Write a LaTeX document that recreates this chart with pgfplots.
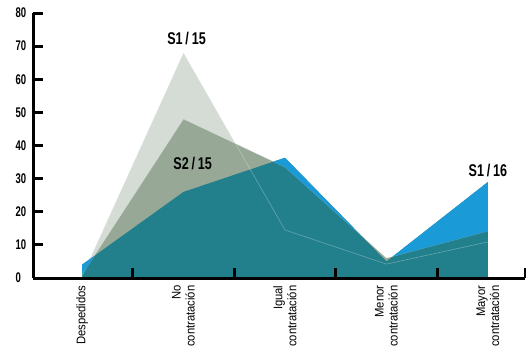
\documentclass[border=0pt]{standalone}
\usepackage{fontspec}
\setmainfont{Liberation Sans}[FakeStretch=0.9]
\newfontfamily\condb{Liberation Sans}[FakeStretch=0.74]
\newfontfamily\condt{Liberation Sans}[FakeStretch=0.68]
\newcommand\ylab[1]{{\condt\bfseries\fontsize{14}{14}\selectfont #1}}
\usepackage{pgfplots}
\usepackage{pgfplotstable}
\pgfplotsset{compat=1.18}
\usepgfplotslibrary{fillbetween}

\definecolor{lgrey}{RGB}{213,220,213}
\definecolor{ggreen}{RGB}{151,168,151}
\definecolor{tealc}{RGB}{34,127,140}
\definecolor{bluec}{RGB}{26,154,215}

\pgfplotstableread{
x y
0 0.5
1 68
2 14.5
3 4.2
4 10.9
}\sOne
\pgfplotstableread{
x y
0 1
1 48
2 33.5
3 6
4 14.2
}\sTwo
\pgfplotstableread{
x y
0 4
1 26
2 36.3
3 5
4 29
}\sBlue

\begin{document}
\begin{tikzpicture}
\begin{axis}[
  scale only axis, width=492pt, height=265pt,
  xmin=-0.483, xmax=4.365, ymin=0, ymax=80,
  axis x line*=bottom, axis y line*=left,
  axis line style={line width=3pt},
  axis on top=true,
  tick align=inside,
  major tick length=10pt,
  every tick/.append style={line width=3pt, black},
  /pgf/number format/assume math mode=true,
  ytick={0,10,20,30,40,50,60,70,80},
  yticklabels={\ylab{0},\ylab{10},\ylab{20},\ylab{30},\ylab{40},\ylab{50},\ylab{60},\ylab{70},\ylab{80}},
  yticklabel style={anchor=west, xshift=-21pt},
  xtick={0.5,1.5,2.5,3.5,4.365},
  xticklabels={},
  extra x ticks={0,1,2,3,4},
  extra x tick labels={Despedidos,No\\contratación,Igual\\contratación,Menor\\contratación,Mayor\\contratación},
  extra x tick style={major tick length=0pt},
  xticklabel shift=4pt,
  xticklabel style={rotate=90, anchor=east, align=right, font=\fontsize{12.5}{14}\selectfont},
  clip=false,
]
\coordinate (O) at (rel axis cs:0,0);
\addplot[fill=lgrey, draw=none] table {\sOne} \closedcycle;
\addplot[fill=ggreen, draw=none] table {\sTwo} \closedcycle;
\addplot[fill=tealc, draw=none] table {\sBlue} \closedcycle;
\addplot[name path=Bl, draw=none] table {\sBlue};
\addplot[name path=S2l, draw=none] table {\sTwo};
\addplot[white, opacity=0.3, line width=0.6pt] table {\sOne};
\addplot[white, opacity=0.3, line width=0.6pt] table {\sTwo};
\addplot[fill=bluec, draw=none] fill between[of=Bl and S2l, split, on layer=main, every odd segment/.style={fill=none}];
\node[font=\condb\bfseries\fontsize{17}{17}\selectfont] at (axis cs:1.03,72.2) {S1\,/\,15};
\node[font=\condb\bfseries\fontsize{17}{17}\selectfont] at (axis cs:1.09,34.7) {S2\,/\,15};
\node[font=\condb\bfseries\fontsize{17}{17}\selectfont] at (axis cs:4.0,32.6) {S1\,/\,16};
\end{axis}
\pgfresetboundingbox
\path[use as bounding box] (O) ++(-33pt,-82pt) rectangle ++(526pt,360pt);
\end{tikzpicture}
\end{document}
